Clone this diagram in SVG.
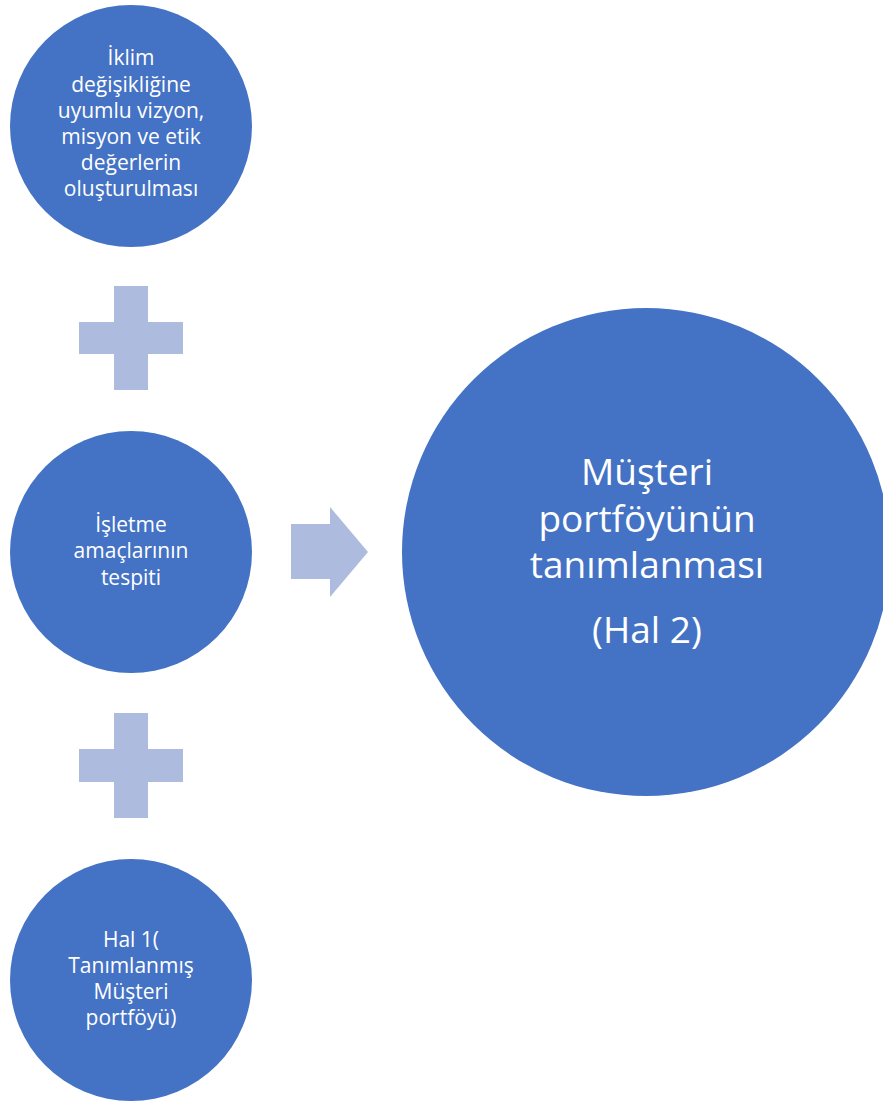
<svg xmlns="http://www.w3.org/2000/svg" width="883" height="1104" viewBox="0 0 883 1104">
<style>
.node{fill:#4472C4}
.conn{fill:#ADBBDE}
.t{font-family:"Open Sans","Noto Sans","DejaVu Sans",sans-serif;fill:#ffffff;text-anchor:middle}
.s{font-size:21px}
.b{font-size:37px}
</style>
<rect width="883" height="1104" fill="#ffffff"/>
<g id="connectors">
<path class="conn" d="M114,286H148V322H183V354H148V390H114V354H79V322H114Z"/>
<path class="conn" d="M114,713H148V749H183V782H148V818H114V782H79V749H114Z"/>
<path class="conn" d="M291,524H330V507L368,552L330,597V579H291Z"/>
</g>
<g id="node-iklim">
<circle class="node" cx="131" cy="126" r="121"/>
<text class="t s" x="131" y="65">İklim</text>
<text class="t s" x="131" y="92">değişikliğine</text>
<text class="t s" x="131" y="118">uyumlu vizyon,</text>
<text class="t s" x="131" y="144">misyon ve etik</text>
<text class="t s" x="131" y="170">değerlerin</text>
<text class="t s" x="131" y="196">oluşturulması</text>
</g>
<g id="node-isletme">
<circle class="node" cx="131" cy="552" r="121"/>
<text class="t s" x="131" y="532">İşletme</text>
<text class="t s" x="131" y="558">amaçlarının</text>
<text class="t s" x="131" y="585">tespiti</text>
</g>
<g id="node-hal1">
<circle class="node" cx="131" cy="980" r="121"/>
<text class="t s" x="131" y="947">Hal 1(</text>
<text class="t s" x="131" y="973">Tanımlanmış</text>
<text class="t s" x="131" y="999">Müşteri</text>
<text class="t s" x="131" y="1025">portföyü)</text>
</g>
<g id="node-hal2">
<circle class="node" cx="646" cy="552" r="244"/>
<text class="t b" x="647" y="485">Müşteri</text>
<text class="t b" x="647" y="532">portföyünün</text>
<text class="t b" x="647" y="578">tanımlanması</text>
<text class="t b" x="647" y="643">(Hal 2)</text>
</g>
</svg>
